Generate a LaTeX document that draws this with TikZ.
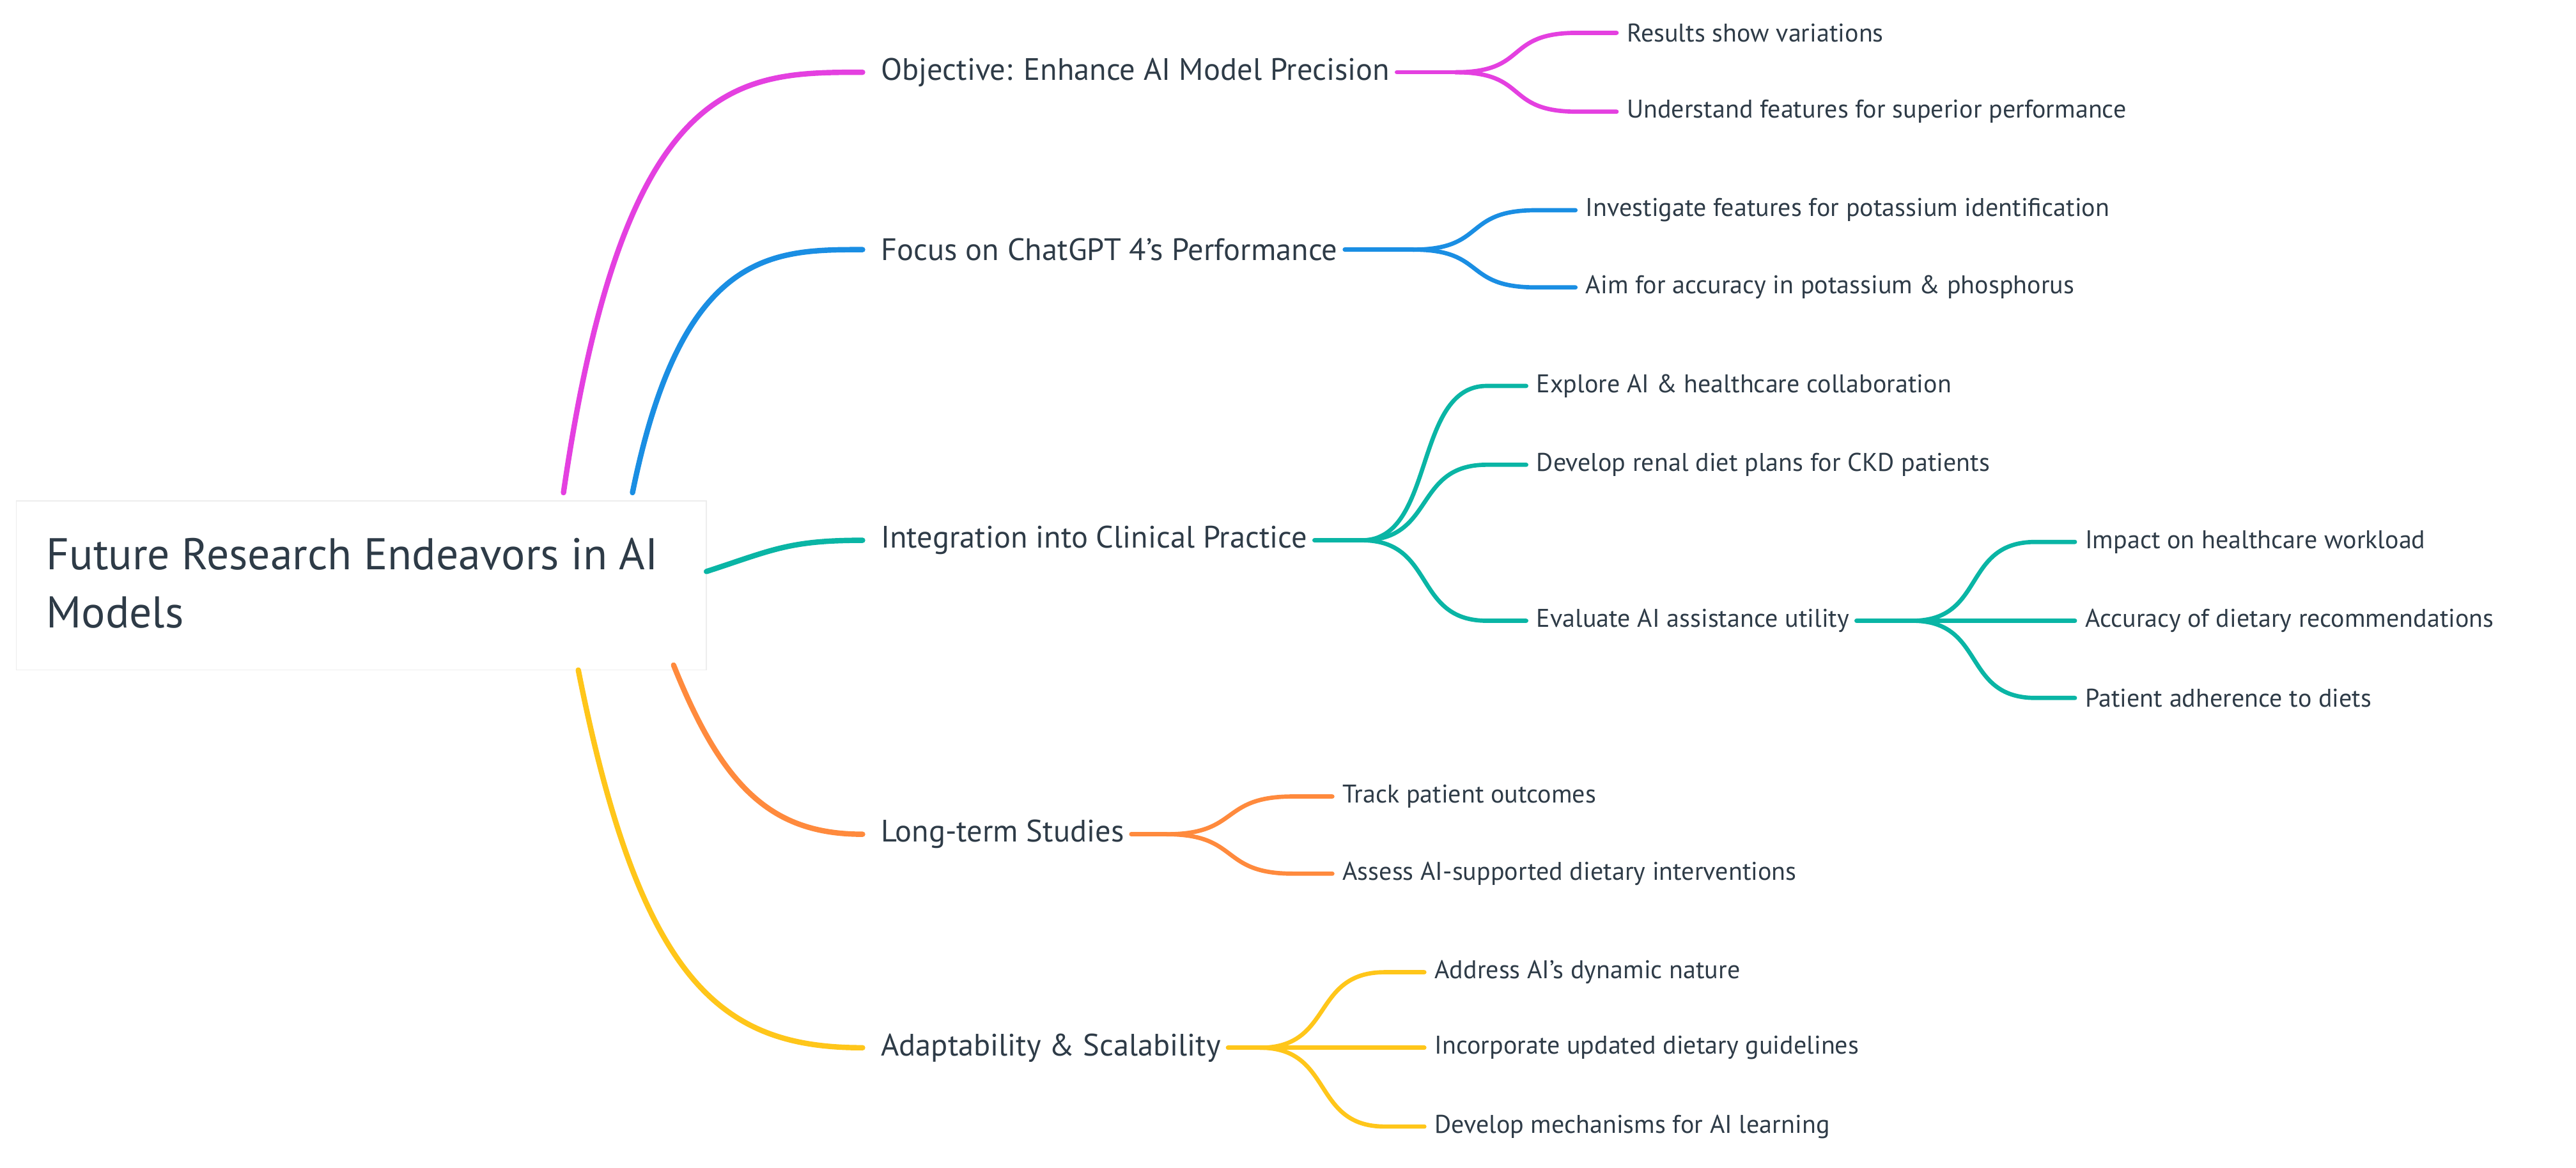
\documentclass[tikz,border=0pt]{standalone}
\usepackage{fontspec}
\usetikzlibrary{calc}
\setmainfont{PT Sans}
\begin{document}
\begin{tikzpicture}[x=0.0257cm,y=-0.0257cm,
  txt/.style={anchor=west,inner sep=0pt},
  leaf/.style={txt,font=\fontsize{11.4}{13}\selectfont},
  mainb/.style={txt,font=\fontsize{13.8}{16}\selectfont},
  br/.style={line width=2.4pt,line cap=round},
  lf/.style={line width=1.9pt,line cap=round}]
\definecolor{cM}{HTML}{E440E0}\definecolor{cB}{HTML}{1A8EE3}
\definecolor{cT}{HTML}{0AB5A5}\definecolor{cO}{HTML}{FF8A3D}\definecolor{cY}{HTML}{FFC61A}
\definecolor{tx}{HTML}{2E3B47}
\tikzset{txt/.append style={text=tx}}
\useasboundingbox (0,0) rectangle (1568,711);
% root
\fill[white] (10,305) rectangle (430,408);
\draw[black!7] (10,305) rectangle (430,408);
\node[txt,font=\fontsize{19.8}{22}\selectfont,align=left] (rt) at (28,355) {Future Research Endeavors in AI\\[4pt]Models};
\coordinate (rM) at (343,300); \coordinate (rB) at (385,300);
\coordinate (rT) at (430,348); \coordinate (rO) at (410,405); \coordinate (rY) at (352,408);
% main nodes
\node[mainb] (m1) at (536,44) {Objective: Enhance AI Model Precision};
\node[mainb] (m2) at (536,152) {Focus on ChatGPT 4's Performance};
\node[mainb] (m3) at (536,329) {Integration into Clinical Practice};
\node[mainb] (m4) at (536,508) {Long-term Studies};
\node[mainb] (m5) at (536,638) {Adaptability \& Scalability};
\draw[br,cM] (rM) .. controls (380,44) and (450,44) .. ([xshift=-8]m1.west);
\draw[br,cB] (rB) .. controls (415,152) and (470,152) .. ([xshift=-8]m2.west);
\draw[br,cT] (rT) .. controls (470,335) and (480,329) .. ([xshift=-8]m3.west);
\draw[br,cO] (rO) .. controls (440,480) and (470,508) .. ([xshift=-8]m4.west);
\draw[br,cY] (rY) .. controls (390,600) and (440,638) .. ([xshift=-8]m5.west);
% leaves
\node[leaf] (a1) at (990,20) {Results show variations};
\node[leaf] (a2) at (990,68) {Understand features for superior performance};
\node[leaf] (b1) at (965,128) {Investigate features for potassium identification};
\node[leaf] (b2) at (965,175) {Aim for accuracy in potassium \& phosphorus};
\node[leaf] (c1) at (935,235) {Explore AI \& healthcare collaboration};
\node[leaf] (c2) at (935,283) {Develop renal diet plans for CKD patients};
\node[leaf] (c3) at (935,378) {Evaluate AI assistance utility};
\node[leaf] (d1) at (1269,330) {Impact on healthcare workload};
\node[leaf] (d2) at (1269,378) {Accuracy of dietary recommendations};
\node[leaf] (d3) at (1269,425) {Patient adherence to diets};
\node[leaf] (e1) at (817,485) {Track patient outcomes};
\node[leaf] (e2) at (817,532) {Assess AI-supported dietary interventions};
\node[leaf] (f1) at (873,592) {Address AI's dynamic nature};
\node[leaf] (f2) at (873,638) {Incorporate updated dietary guidelines};
\node[leaf] (f3) at (873,686) {Develop mechanisms for AI learning};
\coordinate (j1) at (886,44); \coordinate (j2) at (860,152);
\coordinate (j3) at (829,329); \coordinate (j4) at (1164,378);
\coordinate (j5) at (710,508); \coordinate (j6) at (767,638);
\foreach \j/\n/\c in {m1/j1/cM,m2/j2/cB,m3/j3/cT,c3/j4/cT,m4/j5/cO,m5/j6/cY}
  \draw[lf,\c] ([xshift=3]\j.east) -- (\n);
\foreach \j/\n/\c in {j1/a1/cM,j1/a2/cM,j2/b1/cB,j2/b2/cB,j3/c1/cT,j3/c2/cT,j3/c3/cT,
  j4/d1/cT,j4/d2/cT,j4/d3/cT,j5/e1/cO,j5/e2/cO,j6/f1/cY,j6/f2/cY,j6/f3/cY}
  \draw[lf,\c] (\j) .. controls ($(\j)+(45,0)$) and ($(\n.west)+(-75,0)$) .. ($(\n.west)+(-30,0)$) -- ($(\n.west)+(-6,0)$);
\end{tikzpicture}
\end{document}
